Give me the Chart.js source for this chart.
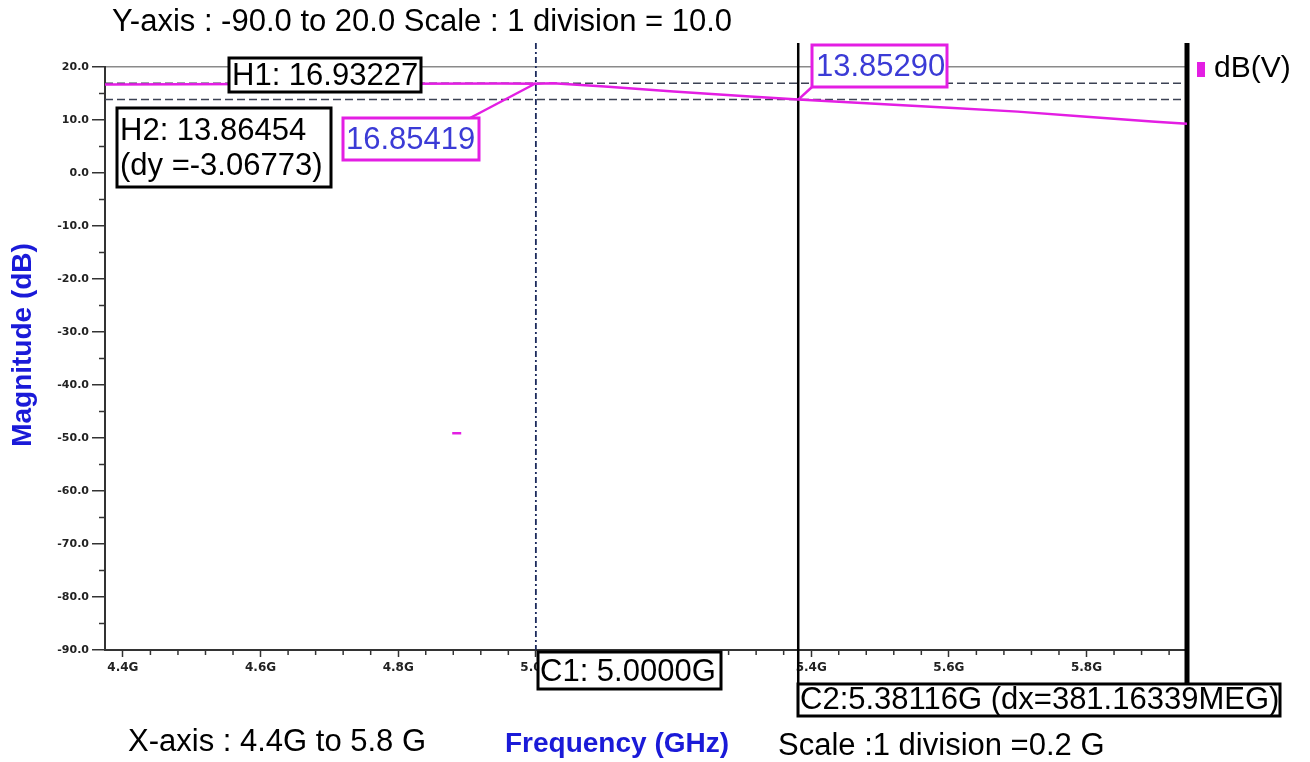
<!DOCTYPE html>
<html>
<head>
<meta charset="utf-8">
<script src="https://cdn.jsdelivr.net/npm/chart.js@4/dist/chart.umd.min.js"></script>
<style>
  html, body { margin: 0; padding: 0; background: #fff; }
  #wrap { width: 1310px; height: 762px; position: relative; }
</style>
</head>
<body>
<div id="wrap"><canvas id="dbChart"></canvas></div>
<script>
// Frequency sweep (GHz) and magnitude dB(V)
const freqGHz = [4.374, 4.6, 4.8, 4.95, 5.0, 5.025, 5.1, 5.2, 5.3, 5.38116, 5.5, 5.6, 5.7, 5.8, 5.9, 5.946];
const magDb   = [16.72, 16.79, 16.85, 16.9, 16.854, 16.932, 16.3, 15.4, 14.55, 13.853, 13.02, 12.31, 11.58, 10.6, 9.65, 9.27];
// stray sample shown as a small dash near 4.88G
const strayFreq = [4.885];
const strayDb = [-49.1];

const xTicks = [4.4, 4.6, 4.8, 5.0, 5.2, 5.4, 5.6, 5.8];
const yTicks = [20, 10, 0, -10, -20, -30, -40, -50, -60, -70, -80, -90];

// markers
const cursorC1 = 5.0;
const cursorC2 = 5.38116;
const levelH1 = 16.93227;
const levelH2 = 13.86454;

const MAGENTA = '#e31ee3';
const BLUE_TXT = '#3b3bd6';
const AXIS_BLUE = '#1a1ad8';
const FONT = '"Liberation Sans", Arial, sans-serif';

function box(ctx, x, y, w, h, lw, color) {
    ctx.save();
    ctx.fillStyle = '#fff';
    ctx.fillRect(x, y, w, h);
    ctx.lineWidth = lw;
    ctx.strokeStyle = color;
    ctx.strokeRect(x, y, w, h);
    ctx.restore();
}

const markerPlugin = {
    id: 'markers',
    beforeDatasetsDraw(chart) {
        const ctx = chart.ctx;
        const xs = chart.scales.x, ys = chart.scales.y;
        const a = chart.chartArea;
        ctx.save();
        // minor ticks
        ctx.strokeStyle = '#333';
        ctx.lineWidth = 1.5;
        for (let v = 15; v > -90; v -= 10) {
            const y = ys.getPixelForValue(v);
            ctx.beginPath(); ctx.moveTo(a.left - 6, y); ctx.lineTo(a.left, y); ctx.stroke();
        }
        for (let k = 0; k <= 38; k++) {
            const v = 4.4 + k * 0.04;
            if (k % 5 === 0 || v > xs.max) continue;
            const x = xs.getPixelForValue(v);
            ctx.beginPath(); ctx.moveTo(x, a.bottom); ctx.lineTo(x, a.bottom + 5); ctx.stroke();
        }
        // horizontal cursors H1 / H2
        ctx.strokeStyle = '#3c4254';
        ctx.lineWidth = 1.6;
        ctx.setLineDash([8, 4]);
        [levelH1, levelH2].forEach(v => {
            const y = ys.getPixelForValue(v);
            ctx.beginPath(); ctx.moveTo(a.left, y); ctx.lineTo(a.right, y); ctx.stroke();
        });
        // C1 dash-dot vertical
        ctx.strokeStyle = '#1c2a5c';
        ctx.lineWidth = 1.8;
        ctx.setLineDash([6, 3, 2, 3]);
        const x1 = xs.getPixelForValue(cursorC1);
        ctx.beginPath(); ctx.moveTo(x1, a.top - 24); ctx.lineTo(x1, a.bottom); ctx.stroke();
        ctx.setLineDash([]);
        // C2 solid vertical
        ctx.strokeStyle = '#000';
        ctx.lineWidth = 2.5;
        const x2 = xs.getPixelForValue(cursorC2);
        ctx.beginPath(); ctx.moveTo(x2, a.top - 24); ctx.lineTo(x2, a.bottom + 34); ctx.stroke();
        // right border
        ctx.lineWidth = 5;
        ctx.beginPath(); ctx.moveTo(a.right, a.top - 24); ctx.lineTo(a.right, a.bottom + 36); ctx.stroke();
        ctx.restore();
    },
    afterDatasetsDraw(chart) {
        const ctx = chart.ctx;
        const xs = chart.scales.x, ys = chart.scales.y;
        ctx.save();
        ctx.textBaseline = 'middle';
        ctx.textAlign = 'left';

        // H1 box
        ctx.font = '31px ' + FONT;
        box(ctx, 229, 58, 192, 34, 3, '#000');
        ctx.fillStyle = '#000';
        ctx.fillText('H1: ' + levelH1.toFixed(5), 232, 76);

        // H2 box
        box(ctx, 117, 108, 214, 79, 3, '#000');
        ctx.fillStyle = '#000';
        ctx.fillText('H2: ' + levelH2.toFixed(5), 120, 131);
        ctx.fillText('(dy =' + (levelH2 - levelH1).toFixed(5) + ')', 120, 166);

        // C1 value label with leader
        const px1 = xs.getPixelForValue(cursorC1), py1 = ys.getPixelForValue(levelH1);
        ctx.strokeStyle = MAGENTA;
        ctx.lineWidth = 2.5;
        ctx.beginPath(); ctx.moveTo(470, 118); ctx.lineTo(px1, py1); ctx.stroke();
        box(ctx, 343, 118, 136, 42, 3, MAGENTA);
        ctx.fillStyle = BLUE_TXT;
        ctx.fillText('16.85419', 346, 140);

        // C2 value label with leader
        const px2 = xs.getPixelForValue(cursorC2), py2 = ys.getPixelForValue(magDb[freqGHz.indexOf(cursorC2)]);
        ctx.beginPath(); ctx.moveTo(812, 87); ctx.lineTo(px2, py2); ctx.stroke();
        box(ctx, 812, 45, 135, 42, 3, MAGENTA);
        ctx.fillStyle = BLUE_TXT;
        ctx.fillText('13.85290', 816, 67);

        // C1 / C2 cursor boxes
        ctx.fillStyle = '#000';
        box(ctx, 538, 652, 183, 37, 3, '#000');
        ctx.fillText('C1: 5.0000G', 540, 672);
        box(ctx, 798, 684, 482, 32, 3, '#000');
        ctx.fillText('C2:5.38116G (dx=381.16339MEG)', 800, 700);

        // legend
        ctx.fillStyle = MAGENTA;
        ctx.fillRect(1197, 62, 8, 15);
        ctx.fillStyle = '#000';
        ctx.font = '30px ' + FONT;
        ctx.fillText('dB(V)', 1214, 69);

        // header / footer texts
        ctx.font = '31px ' + FONT;
        ctx.fillText('Y-axis : -90.0 to 20.0 Scale : 1 division = 10.0', 112, 22);
        ctx.fillText('X-axis : 4.4G to 5.8 G', 128, 742);
        ctx.fillText('Scale :1 division =0.2 G', 778, 746);

        ctx.fillStyle = AXIS_BLUE;
        ctx.font = 'bold 28px ' + FONT;
        ctx.fillText('Frequency (GHz)', 505, 744);
        ctx.save();
        ctx.translate(23, 345);
        ctx.rotate(-Math.PI / 2);
        ctx.textAlign = 'center';
        ctx.fillText('Magnitude (dB)', 0, 0);
        ctx.restore();

        ctx.restore();
    }
};

const dbChart = new Chart(document.getElementById('dbChart'), {
    type: 'line',
    data: {
        datasets: [{
            label: 'dB(V)',
            data: freqGHz.map((f, i) => ({ x: f, y: magDb[i] })),
            borderColor: MAGENTA,
            borderWidth: 2.5,
            pointRadius: 0,
            tension: 0
        }, {
            label: 'stray',
            data: strayFreq.map((f, i) => ({ x: f, y: strayDb[i] })),
            showLine: false,
            pointStyle: 'line',
            pointRadius: 4.5,
            borderColor: MAGENTA,
            borderWidth: 2.5
        }]
    },
    options: {
        responsive: true,
        maintainAspectRatio: false,
        animation: false,
        layout: { padding: { top: 67, right: 123, left: 0, bottom: 0 } },
        plugins: { legend: { display: false }, tooltip: { enabled: false } },
        scales: {
            x: {
                type: 'linear',
                min: 4.374,
                max: 5.946,
                afterBuildTicks: s => { s.ticks = xTicks.map(v => ({ value: v })); },
                afterFit: s => { s.height = 112; },
                ticks: {
                    autoSkip: false,
                    maxRotation: 0,
                    padding: 4,
                    color: '#222',
                    font: { family: 'Verdana, "DejaVu Sans", sans-serif', size: 12, weight: 'bold' },
                    callback: v => v.toFixed(1) + 'G'
                },
                grid: { drawOnChartArea: false, tickLength: 7, tickColor: '#333', tickWidth: 1.5 },
                border: { display: true, color: '#333', width: 2 }
            },
            y: {
                min: -90,
                max: 20,
                afterBuildTicks: s => { s.ticks = yTicks.map(v => ({ value: v })); },
                afterFit: s => { s.width = 105; },
                ticks: {
                    padding: 3,
                    color: '#222',
                    font: { family: 'Verdana, "DejaVu Sans", sans-serif', size: 11, weight: 'bold' },
                    callback: v => v.toFixed(1)
                },
                grid: {
                    tickLength: 13,
                    tickColor: '#333',
                    tickWidth: 1.5,
                    color: c => (c.tick && c.tick.value === 20) ? '#8a8a8a' : 'rgba(0,0,0,0)',
                    lineWidth: 1.5
                },
                border: { display: true, color: '#333', width: 2 }
            }
        }
    },
    plugins: [markerPlugin]
});
</script>
</body>
</html>
